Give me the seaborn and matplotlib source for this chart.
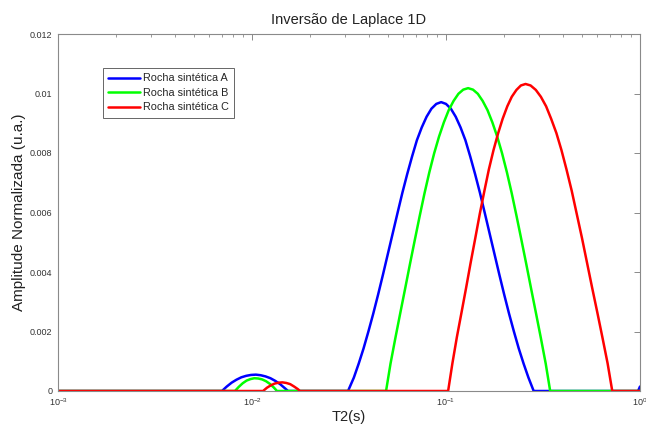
import numpy as np
import pandas as pd
import matplotlib
matplotlib.use("Agg")
import matplotlib.pyplot as plt
import seaborn as sns
from matplotlib.ticker import FuncFormatter, FixedLocator, LogLocator

# ---- data ----
series_names = ["Rocha sintética A", "Rocha sintética B", "Rocha sintética C"]
series_colors = ["#0000ff", "#00ff00", "#ff0000"]

# log10(T2 [s]) sample positions and normalized amplitudes
blue_log_t2 = [-3.0,
               -2.155, -2.13, -2.105, -2.08, -2.055, -2.03, -2.005, -1.98, -1.955, -1.93,
               -1.905, -1.88, -1.855, -1.83, -1.814,
               -1.505, -1.475, -1.45, -1.425, -1.40, -1.375, -1.35, -1.325, -1.30, -1.275,
               -1.25, -1.225, -1.20, -1.175, -1.15, -1.125, -1.10, -1.075, -1.05, -1.025,
               -1.00, -0.975, -0.95, -0.925, -0.90, -0.875, -0.85, -0.825, -0.80, -0.775,
               -0.75, -0.725, -0.70, -0.675, -0.65, -0.625, -0.60, -0.575, -0.548,
               -0.01, 0.0]
blue_amp = [0,
            0, 0.00015, 0.00028, 0.00038, 0.00046, 0.00051, 0.00054, 0.00055, 0.00053, 0.00049,
            0.00043, 0.00034, 0.00023, 0.00009, 0,
            0, 0.00045, 0.00092, 0.00143, 0.00200, 0.00260, 0.00324, 0.00391, 0.00460, 0.00529,
            0.00598, 0.00666, 0.00729, 0.00788, 0.00843, 0.00886, 0.00922, 0.00949, 0.00965, 0.00971,
            0.00965, 0.00949, 0.00922, 0.00886, 0.00843, 0.00788, 0.00729, 0.00666, 0.00598, 0.00529,
            0.00460, 0.00391, 0.00324, 0.00260, 0.00200, 0.00143, 0.00092, 0.00045, 0,
            0, 0.00015]

green_log_t2 = [-3.0,
                -2.088, -2.068, -2.048, -2.028, -2.008, -1.988, -1.968, -1.948, -1.928, -1.908,
                -1.888, -1.871,
                -1.309, -1.286, -1.261, -1.236, -1.211, -1.186, -1.161, -1.136, -1.111, -1.086,
                -1.061, -1.036, -1.011, -0.986, -0.961, -0.936, -0.911, -0.886,
                -0.861, -0.836, -0.811, -0.786, -0.761, -0.736, -0.711, -0.686, -0.661, -0.636,
                -0.611, -0.586, -0.561, -0.536, -0.511, -0.486, -0.463,
                0.0]
green_amp = [0,
             0, 0.00014, 0.00026, 0.00035, 0.00040, 0.00043, 0.00042, 0.00039, 0.00033, 0.00024,
             0.00012, 0,
             0, 0.00092, 0.00178, 0.00261, 0.00343, 0.00426, 0.00507, 0.00587, 0.00664, 0.00735,
             0.00799, 0.00855, 0.00903, 0.00944, 0.00975, 0.00999, 0.01013, 0.01018,
             0.01013, 0.00999, 0.00975, 0.00944, 0.00903, 0.00855, 0.00799, 0.00735, 0.00664, 0.00587,
             0.00507, 0.00426, 0.00343, 0.00261, 0.00178, 0.00092, 0,
             0]

red_log_t2 = [-3.0,
              -1.943, -1.923, -1.903, -1.883, -1.863, -1.843, -1.823, -1.803, -1.783, -1.763,
              -1.753,
              -0.989, -0.967, -0.944, -0.920, -0.896, -0.873, -0.849, -0.826, -0.802, -0.779,
              -0.755, -0.731, -0.708, -0.684, -0.661, -0.637, -0.614, -0.590,
              -0.564, -0.537, -0.511, -0.484, -0.458, -0.431, -0.405, -0.379, -0.352, -0.326,
              -0.299, -0.273, -0.247, -0.220, -0.194, -0.167, -0.143,
              0.0]
red_amp = [0,
           0, 0.00011, 0.00019, 0.00025, 0.00028, 0.00029, 0.00027, 0.00023, 0.00015, 0.00006,
           0,
           0, 0.00093, 0.00181, 0.00264, 0.00348, 0.00431, 0.00514, 0.00595, 0.00673, 0.00745,
           0.00810, 0.00867, 0.00915, 0.00957, 0.00989, 0.01012, 0.01027, 0.01032,
           0.01027, 0.01012, 0.00989, 0.00957, 0.00915, 0.00867, 0.00810, 0.00745, 0.00673, 0.00595,
           0.00514, 0.00431, 0.00348, 0.00264, 0.00181, 0.00093, 0,
           0]

y_ticks = [0, 0.002, 0.004, 0.006, 0.008, 0.01, 0.012]

title_text = "Inversão de Laplace 1D"
x_label = "T2(s)"
y_label = "Amplitude Normalizada (u.a.)"

# ---- build long-form table ----
frames = []
for name, lt, amp in zip(series_names,
                         [blue_log_t2, green_log_t2, red_log_t2],
                         [blue_amp, green_amp, red_amp]):
    frames.append(pd.DataFrame({"T2": np.power(10.0, lt), "amp": amp, "amostra": name}))
df = pd.concat(frames, ignore_index=True)

sns.set_style("white")
plt.rcParams["font.family"] = ["Liberation Sans", "DejaVu Sans"]

fig = plt.figure(figsize=(6.46, 4.24), dpi=100)
ax = fig.add_axes([58 / 646, 1 - 391 / 424, (640 - 58) / 646, (391 - 34) / 424])

sns.lineplot(data=df, x="T2", y="amp", hue="amostra", hue_order=series_names,
             palette=series_colors, estimator=None, sort=False, linewidth=1.8,
             legend=False, ax=ax)

ax.set_xscale("log")
ax.set_xlim(1e-3, 1)
ax.set_ylim(0, 0.012)
ax.yaxis.set_major_locator(FixedLocator(y_ticks))
ax.yaxis.set_major_formatter(FuncFormatter(lambda v, p: "%g" % v))
ax.xaxis.set_major_locator(LogLocator(base=10, numticks=10))
ax.xaxis.set_minor_locator(LogLocator(base=10, subs=np.arange(2, 10), numticks=20))

for s in ax.spines.values():
    s.set_color("#8a8a8a")
    s.set_linewidth(0.8)
    s.set_visible(True)

ax.tick_params(which="both", direction="in", top=True, right=True,
               color="#8a8a8a", labelcolor="#333333", labelsize=6.5)
ax.tick_params(which="major", length=4, width=0.7, pad=4)
ax.tick_params(which="minor", length=2, width=0.6)

ax.set_title(title_text, fontsize=10.5, color="#222222", pad=7)
ax.set_xlabel(x_label, fontsize=10.5, color="#222222", labelpad=1)
ax.set_ylabel(y_label, fontsize=11, color="#222222", labelpad=3)

handles = ax.get_lines()[:3]
leg = ax.legend(handles, series_names, loc="upper left",
                bbox_to_anchor=(0.077, 0.905), fontsize=7.8, frameon=True,
                fancybox=False, framealpha=1, edgecolor="#666666",
                handlelength=2.9, labelspacing=0.42, borderpad=0.5,
                handletextpad=0.3, borderaxespad=0)
leg.get_frame().set_linewidth(0.7)

fig.savefig("out.png", dpi=100)
